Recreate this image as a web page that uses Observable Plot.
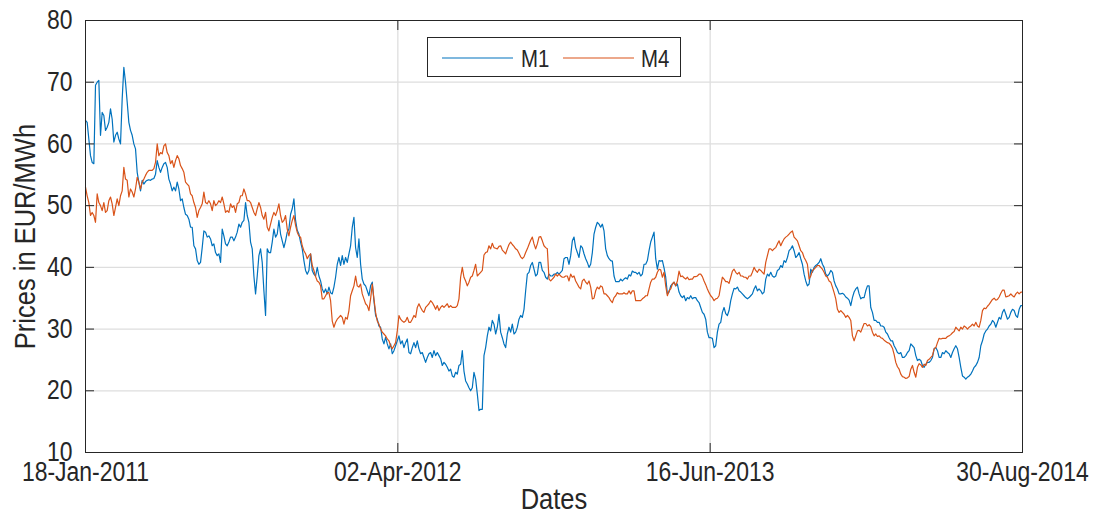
<!DOCTYPE html>
<html><head><meta charset="utf-8">
<script src="https://cdn.jsdelivr.net/npm/d3@7"></script>
<script src="https://cdn.jsdelivr.net/npm/@observablehq/plot@0.6"></script>
<style>
body{margin:0;background:#fff;}
#wrap{position:relative;width:1099px;height:517px;overflow:hidden;}
#legend{position:absolute;left:427px;top:37px;}
</style></head><body><div id="wrap"></div>
<script>
const seriesNames = ["M1", "M4"];
const seriesColors = ["#0072BD", "#D95319"];
const startDate = "2011-01-18";
const endDate = "2014-08-30";
const xTickDates = ["2011-01-18", "2012-04-02", "2013-06-16", "2014-08-30"];
const yTicks = [10, 20, 30, 40, 50, 60, 70, 80];
const xLabel = "Dates";
const yLabel = "Prices in EUR/MWh";

// M1 prices (EUR/MWh), evenly spaced samples from 18-Jan-2011 to 30-Aug-2014
const m1 = [
63.8,63.5,60.8,58.1,57.0,56.8,69.5,70.0,70.3,61.4,65.1,64.6,62.2,62.7,63.5,65.7,64.0,60.3,61.4,61.9,
60.8,60.0,67.3,72.4,70.0,66.8,63.5,62.2,61.4,60.0,59.2,55.4,53.8,52.4,54.1,53.5,53.9,54.1,54.2,54.1,
54.3,54.4,55.1,57.3,56.2,55.4,56.2,56.8,57.0,56.2,54.3,53.5,52.4,53.0,52.4,53.8,52.7,50.8,51.1,49.7,
48.6,48.4,47.8,46.5,46.5,43.5,43.0,41.1,40.5,40.8,43.2,45.9,45.7,44.9,45.1,44.6,43.5,43.8,42.4,41.9,
42.2,40.8,46.2,45.1,43.8,43.5,44.1,44.9,44.9,44.3,44.9,45.7,47.0,46.5,47.3,47.6,50.5,48.4,47.3,44.1,
43.0,38.6,35.7,38.6,41.9,43.0,40.8,36.2,32.2,43.0,42.4,
42.4,44.1,46.2,44.9,45.4,47.6,45.4,44.3,43.2,44.3,45.7,46.2,48.6,49.5,51.1,47.6,46.0,45.4,44.1,43.0,
41.1,39.5,38.9,39.5,42.2,39.5,38.9,38.6,40.0,38.6,37.8,36.5,35.9,36.5,35.7,36.8,35.9,35.7,36.8,38.4,
40.5,41.6,40.3,41.9,40.5,41.6,40.8,42.2,43.5,46.5,48.1,43.2,41.6,44.6,40.5,38.1,37.3,37.0,36.2,35.4,
37.0,37.6,34.6,32.2,31.6,30.5,30.3,28.4,27.6,28.7,27.6,26.8,27.6,26.0,26.5,27.3,28.1,28.9,27.6,28.1,
27.0,27.8,28.4,26.2,26.0,27.0,27.8,27.0,28.1,26.8,26.0,26.2,25.4,24.6,25.4,26.0,26.2,25.4,26.5,25.7,
26.2,25.7,25.2,24.1,24.6,24.3,23.8,23.2,23.5,22.4,22.2,
23.0,22.7,24.1,24.3,26.5,23.2,21.6,21.1,20.5,20.0,20.5,23.0,21.9,19.5,16.8,17.0,17.0,25.7,27.0,28.9,
30.3,29.7,31.4,30.8,29.2,30.3,32.4,29.5,28.6,27.6,27.0,29.2,30.3,29.5,30.8,29.2,29.5,30.3,31.6,32.2,
31.9,33.2,36.2,38.9,39.2,40.3,40.8,39.7,38.6,38.9,40.8,40.8,39.5,39.2,38.4,38.1,38.9,38.6,38.6,38.9,
38.9,39.2,38.9,39.2,39.5,41.4,41.6,41.6,40.5,41.9,44.3,44.9,43.2,42.4,41.6,43.5,43.2,42.2,41.4,40.8,
40.0,40.5,42.4,45.4,46.5,47.3,47.0,46.5,47.0,45.9,43.0,41.9,41.4,41.1,41.0,38.6,37.7,37.7,37.7,38.1,
37.8,38.1,38.3,38.1,38.8,38.6,39.4,39.2,39.2,38.9,39.2,
38.6,38.9,40.5,40.5,41.1,42.7,44.1,44.9,45.7,41.4,39.7,41.1,41.0,41.1,39.9,38.4,35.7,36.0,37.0,37.3,
37.6,37.0,37.3,36.0,35.4,35.1,35.4,34.6,35.1,34.9,35.4,34.9,35.1,35.1,34.6,34.3,33.5,32.7,32.4,31.6,
29.5,28.6,28.6,28.5,27.0,27.3,29.5,30.8,31.1,32.7,33.5,32.5,32.2,33.0,34.6,35.7,36.6,36.5,36.8,36.2,
36.0,35.7,35.4,35.1,34.9,35.1,35.4,35.7,36.5,37.0,36.2,36.5,36.2,35.7,36.0,38.1,38.9,38.6,39.2,38.6,
38.4,38.6,39.5,39.7,40.3,40.0,41.1,40.8,41.6,42.7,43.0,43.5,42.7,41.6,41.9,42.4,41.4,40.5,38.9,37.8,
37.0,37.3,39.7,39.2,40.0,40.3,40.5,40.8,41.4,40.5,40.0,
38.9,38.6,38.9,39.5,39.2,37.8,37.0,36.5,35.7,35.7,35.8,35.6,35.2,35.0,34.7,33.8,35.1,36.0,36.5,36.8,
35.7,34.9,35.1,35.1,36.2,37.0,37.0,33.5,32.7,31.4,31.4,31.1,31.1,30.5,30.5,30.3,29.5,29.2,28.6,28.1,
28.1,27.3,26.8,26.2,26.0,26.2,25.4,25.4,25.7,26.2,26.5,27.6,27.3,27.0,25.7,24.9,25.1,24.9,24.1,23.8,
24.3,24.6,24.6,24.9,25.4,26.8,27.0,26.5,25.4,25.4,26.2,26.0,26.5,26.2,26.0,25.4,26.2,26.8,27.3,26.8,
25.4,23.8,22.4,22.2,21.9,22.2,22.4,22.7,23.2,23.8,24.1,24.6,25.4,27.3,28.1,29.2,29.7,30.0,30.5,30.8,
31.4,31.1,30.3,31.1,31.9,31.6,32.7,33.2,32.4,31.6,31.9,32.7,33.2,33.0,32.2,31.9,33.2,33.8,33.8
];

// M4 prices (EUR/MWh), same sampling
const m4 = [
53.0,51.6,50.5,48.4,48.9,48.4,47.3,51.9,50.5,50.0,49.2,50.5,48.9,49.2,50.8,51.4,50.3,48.4,49.7,51.1,
50.0,51.6,52.4,56.2,54.3,54.1,51.4,52.7,52.2,51.4,52.7,54.6,53.8,52.7,53.8,54.3,54.9,55.4,55.7,55.7,
55.7,56.0,57.0,60.0,58.1,58.6,58.4,59.7,60.0,58.6,58.1,56.8,57.3,56.2,57.3,58.1,57.6,56.5,56.0,55.4,
53.8,53.5,53.2,51.9,51.6,50.5,49.7,48.1,49.2,49.7,50.3,52.2,50.5,50.3,50.8,50.3,49.2,50.8,50.0,50.3,
50.8,50.5,51.4,50.3,48.9,49.2,48.9,50.3,49.7,50.0,48.9,50.3,50.5,51.6,51.6,52.7,51.9,50.8,50.8,50.5,
49.7,48.9,48.4,49.5,50.5,49.7,48.4,47.8,48.9,46.5,45.9,
47.0,48.1,48.9,48.4,49.2,50.3,48.4,47.3,47.6,48.4,46.2,45.1,46.5,47.6,48.4,46.8,45.7,45.1,44.9,43.5,
42.7,42.2,41.4,41.9,42.2,40.3,39.5,38.5,37.8,37.6,37.0,34.9,34.9,35.4,35.9,35.9,34.6,31.3,30.3,31.1,
31.6,31.9,32.2,31.9,30.8,31.9,31.6,33.0,35.4,36.2,37.0,38.6,37.0,36.8,37.3,35.7,34.9,34.1,33.8,33.0,
34.9,37.3,34.9,32.7,31.3,30.8,30.0,29.5,29.2,28.9,28.4,28.1,27.3,26.8,27.3,27.8,29.7,32.2,31.6,31.3,
31.1,31.3,31.9,31.1,31.1,31.6,32.2,31.9,33.5,34.1,33.5,33.0,32.7,33.5,33.8,34.1,34.6,34.3,33.8,33.2,
33.8,33.0,33.5,33.8,33.5,33.8,34.1,33.5,33.8,33.5,33.5,
33.5,33.8,34.9,38.4,40.0,38.4,37.8,37.0,37.6,38.4,38.6,39.5,40.5,38.6,38.9,39.2,39.5,42.0,42.4,42.5,
43.5,43.0,43.9,43.2,43.1,43.0,43.4,43.5,42.8,42.5,42.2,43.0,43.7,44.1,43.7,43.4,43.0,42.8,42.3,41.7,
41.4,41.7,42.4,43.0,43.7,44.4,44.9,43.8,43.0,43.8,44.9,45.0,44.3,43.5,43.2,43.0,38.1,37.8,38.1,38.4,
38.9,38.6,38.9,38.6,38.4,38.4,38.6,38.6,37.8,38.9,38.4,38.6,37.8,37.3,36.8,36.5,37.8,38.1,37.6,37.3,
37.8,36.8,34.9,35.0,36.2,36.8,36.5,37.0,36.8,35.7,35.7,35.4,35.1,34.6,34.3,35.1,35.4,35.9,35.7,35.7,
35.7,35.9,35.7,35.7,36.2,35.7,36.2,36.2,34.6,34.6,34.6,
34.6,34.9,35.1,35.4,35.4,36.5,37.6,38.1,38.1,38.4,39.2,39.7,39.6,38.4,39.2,37.0,35.4,36.2,36.5,37.3,
37.6,37.0,37.8,39.4,38.5,38.6,38.3,38.1,38.4,38.0,38.1,38.1,38.5,38.5,38.6,38.9,38.9,38.5,37.8,37.2,
36.5,35.9,35.4,35.1,34.6,34.9,35.0,35.4,37.0,38.4,38.1,37.7,37.7,37.4,38.4,39.4,39.7,39.2,38.9,39.2,
38.6,38.6,38.4,38.4,38.1,38.6,38.6,39.2,40.0,39.5,39.2,39.7,39.5,39.2,38.9,40.8,41.9,43.0,43.0,42.7,
43.0,43.2,43.8,44.3,43.5,44.1,44.6,44.9,45.1,45.4,45.7,45.9,44.9,44.6,44.3,43.5,42.7,42.4,41.6,41.1,
40.5,38.1,38.6,39.5,39.7,40.0,40.3,40.3,40.0,39.7,39.2,
38.6,38.4,37.8,37.6,36.8,35.9,34.9,33.2,32.7,33.0,32.7,32.4,31.9,32.2,31.9,31.4,28.9,28.1,28.9,29.7,
29.8,29.5,30.2,30.9,30.9,30.5,30.7,30.4,29.5,28.9,29.2,28.8,28.9,28.6,28.5,28.2,28.0,27.8,27.7,27.4,
26.9,25.9,24.6,23.9,23.5,22.7,22.3,22.2,22.0,22.1,22.3,23.5,24.1,23.0,22.2,23.8,24.4,24.2,23.8,24.3,
24.1,24.9,25.1,25.4,25.7,26.8,27.0,27.8,28.5,28.4,28.5,28.5,28.5,28.8,28.9,29.1,29.4,29.6,30.3,30.0,
29.7,30.3,30.0,30.5,30.3,30.0,30.3,30.5,30.8,30.5,31.1,30.5,30.3,31.4,33.0,33.4,33.3,33.7,34.0,34.4,
34.8,35.0,34.7,34.8,35.2,35.8,36.3,36.3,35.2,35.3,35.4,35.7,35.4,35.2,35.7,36.0,35.7,36.0,36.0
];

const t0 = new Date(startDate), t1 = new Date(endDate);
const n = m1.length;
const sampleDates = m1.map((_, i) => new Date(+t0 + (t1 - t0) * i / (n - 1)));
const rows = [
  ...m1.map((v, i) => ({date: sampleDates[i], price: v, series: seriesNames[0]})),
  ...m4.map((v, i) => ({date: sampleDates[i], price: v, series: seriesNames[1]}))
];
const xTicks = xTickDates.map(d => new Date(d));
const fmt = d3.utcFormat("%d-%b-%Y");
const ink = "#262626";

const chart = Plot.plot({
  width: 1099, height: 517,
  marginLeft: 85, marginRight: 77, marginTop: 20, marginBottom: 65,
  style: {fontFamily: "'Liberation Sans', Arial, sans-serif", fontSize: "27px", color: ink, background: "#fff", overflow: "visible"},
  x: {type: "utc", domain: [t0, t1]},
  y: {domain: [10, 80]},
  color: {domain: seriesNames, range: seriesColors},
  marks: [
    Plot.gridY(yTicks.slice(1, -1), {stroke: "#dedede", strokeOpacity: 1, strokeWidth: 1.3}),
    Plot.gridX(xTicks.slice(1, -1), {stroke: "#dedede", strokeOpacity: 1, strokeWidth: 1.3}),
    Plot.line(rows, {x: "date", y: "price", z: "series", stroke: "series", strokeWidth: 1.2}),
    Plot.frame({stroke: ink, strokeWidth: 1}),
    Plot.axisY(yTicks, {anchor: "left", tickSize: -9, tickPadding: 22, label: null, stroke: ink, fontSize: 27}),
    Plot.axisY(yTicks, {anchor: "right", tickSize: -9, tickFormat: () => "", label: null, stroke: ink}),
    Plot.axisX(xTicks, {anchor: "bottom", tickSize: -9, tickPadding: 18, tickFormat: fmt, label: null, stroke: ink, fontSize: 27}),
    Plot.axisX(xTicks, {anchor: "top", tickSize: -9, tickFormat: () => "", label: null, stroke: ink}),
    Plot.text([xLabel], {frameAnchor: "bottom", dy: 56, fontSize: 30, fill: ink}),
    Plot.text([yLabel], {frameAnchor: "left", rotate: -90, dx: -60, fontSize: 30, fill: ink, className: "ylab"})
  ]
});
const wrap = document.getElementById("wrap");
wrap.appendChild(chart);

// legend (inside the axes, top centre)
const lg = d3.select(wrap).append("svg").attr("id", "legend").attr("width", 255).attr("height", 41)
  .style("font-family", "'Liberation Sans', Arial, sans-serif");
lg.append("rect").attr("x", 0.5).attr("y", 0.5).attr("width", 253).attr("height", 39).attr("fill", "#fff").attr("stroke", ink);
const lgItems = [{x: 15, tx: 94}, {x: 136, tx: 214}];
seriesNames.forEach((s, i) => {
  lg.append("line").attr("x1", lgItems[i].x).attr("x2", lgItems[i].x + 71).attr("y1", 21).attr("y2", 21)
    .attr("stroke", seriesColors[i]).attr("stroke-width", 1.2);
  lg.append("text").attr("x", lgItems[i].tx).attr("y", 29.5).attr("font-size", 24).attr("fill", ink).text(s);
});

// condensed glyphs as in the reference rendering
const squeeze = 0.85;
wrap.querySelectorAll("text").forEach(t => {
  const L = t.getComputedTextLength();
  if (L > 0) { t.setAttribute("textLength", (L * squeeze).toFixed(1)); t.setAttribute("lengthAdjust", "spacingAndGlyphs"); }
});
// re-centre the rotated y label explicitly
wrap.querySelectorAll(".ylab text").forEach(t => {
  const Lc = +t.getAttribute("textLength");
  t.setAttribute("text-anchor", "start");
  t.setAttribute("x", (-Lc / 2).toFixed(1));
});
</script></body></html>
